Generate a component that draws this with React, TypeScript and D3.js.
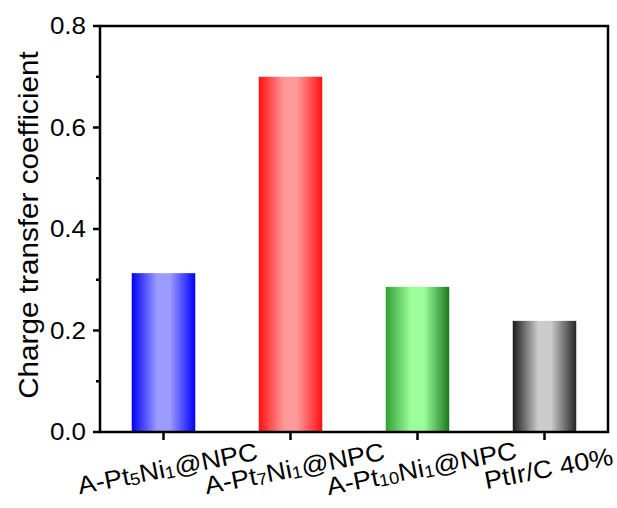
import React from "react";
import * as d3 from "d3";

// Catalyst samples and their charge transfer coefficients
const categories = ["A-Pt5Ni1@NPC", "A-Pt7Ni1@NPC", "A-Pt10Ni1@NPC", "PtIr/C 40%"];
const values = [0.313, 0.7, 0.286, 0.219];

// Label pieces: [text, isSubscript]
const labelParts: [string, boolean][][] = [
  [["A-Pt", false], ["5", true], ["Ni", false], ["1", true], ["@NPC", false]],
  [["A-Pt", false], ["7", true], ["Ni", false], ["1", true], ["@NPC", false]],
  [["A-Pt", false], ["10", true], ["Ni", false], ["1", true], ["@NPC", false]],
  [["PtIr/C 40%", false]],
];

const yTicks = [0, 0.2, 0.4, 0.6, 0.8];
const yMinorTicks = [0.1, 0.3, 0.5, 0.7];
const yLabel = "Charge transfer coefficient";

// Gradient colours per bar: left edge, centre, right edge
const barGradients = [
  { left: "#0000ff", mid: "#9c9cff", right: "#0000ff" },
  { left: "#ff1010", mid: "#ff9a9a", right: "#ff1010" },
  { left: "#34a034", mid: "#9cff9c", right: "#1c781c" },
  { left: "#1c1c1c", mid: "#cccccc", right: "#262626" },
];

const W = 617;
const H = 508;
const left = 100;
const right = 608;
const top = 26;
const bottom = 432;
const font = "'Liberation Sans', Arial, Helvetica, sans-serif";

export default function App() {
  const x = d3
    .scaleBand<string>()
    .domain(categories)
    .range([left, right])
    .paddingInner(0.5)
    .paddingOuter(0.25);
  const y = d3.scaleLinear().domain([0, 0.8]).range([bottom, top]);

  return (
    <svg
      width={W}
      height={H}
      style={{ position: "absolute", left: 0, top: 0, background: "#fff" }}
      fontFamily={font}
    >
      <defs>
        {barGradients.map((g, i) => (
          <linearGradient key={i} id={`bar-grad-${i}`} x1="0" x2="1" y1="0" y2="0">
            <stop offset="0" stopColor={g.left} />
            <stop offset="0.4" stopColor={g.mid} />
            <stop offset="0.6" stopColor={g.mid} />
            <stop offset="1" stopColor={g.right} />
          </linearGradient>
        ))}
      </defs>

      {/* bars */}
      {categories.map((c, i) => (
        <rect
          key={c}
          x={x(c)!}
          y={y(values[i])}
          width={x.bandwidth()}
          height={y(0) - y(values[i])}
          fill={`url(#bar-grad-${i})`}
        />
      ))}

      {/* frame */}
      <rect
        x={left}
        y={top}
        width={right - left}
        height={bottom - top}
        fill="none"
        stroke="#000"
        strokeWidth={2.5}
      />

      {/* y ticks */}
      {yTicks.map((t) => (
        <g key={t}>
          <line x1={left - 7} x2={left} y1={y(t)} y2={y(t)} stroke="#000" strokeWidth={2.5} />
          <g transform={`translate(86,${y(t)}) scale(1.13,1)`}>
            <text textAnchor="end" y={8.2} fontSize={23} fill="#000">
              {t.toFixed(1)}
            </text>
          </g>
        </g>
      ))}
      {yMinorTicks.map((t) => (
        <line key={t} x1={left - 4} x2={left} y1={y(t)} y2={y(t)} stroke="#000" strokeWidth={2.5} />
      ))}

      {/* x ticks and labels */}
      {categories.map((c, i) => {
        const cx = x(c)! + x.bandwidth() / 2;
        return (
          <g key={c}>
            <line x1={cx} x2={cx} y1={bottom} y2={bottom + 8} stroke="#000" strokeWidth={2.5} />
            <g transform={`translate(${cx + 4},468) rotate(-11) scale(1.08,1)`}>
              <text textAnchor="middle" y={9} fontSize={25} fill="#000">
                {labelParts[i].map(([s, sub], j) => {
                  const prevSub = j > 0 && labelParts[i][j - 1][1];
                  return (
                    <tspan
                      key={j}
                      fontSize={sub ? 17 : 25}
                      dy={sub ? 1.5 : prevSub ? -1.5 : 0}
                    >
                      {s}
                    </tspan>
                  );
                })}
              </text>
            </g>
          </g>
        );
      })}

      {/* y axis title */}
      <g transform={`translate(38,${(top + bottom) / 2 - 4}) rotate(-90) scale(1.1,1)`}>
        <text textAnchor="middle" fontSize={27} fill="#000">
          {yLabel}
        </text>
      </g>
    </svg>
  );
}
